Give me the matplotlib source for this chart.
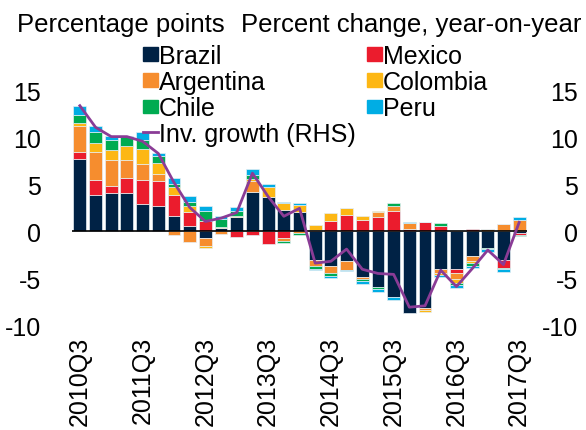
import matplotlib
matplotlib.use("Agg")
import matplotlib.pyplot as plt
import numpy as np
from matplotlib.patches import Rectangle
from matplotlib.lines import Line2D

plt.rcParams['font.family'] = ['Liberation Sans', 'DejaVu Sans']
plt.rcParams['axes.unicode_minus'] = False

quarters = [f"{2010 + (i + 2) // 4}Q{(i + 2) % 4 + 1}" for i in range(29)]

brazil = [7.75, 3.9, 4.1, 4.05, 2.9, 2.7, 1.58, 0.53, -0.74, 0.35, 1.48, 4.15, 3.7, 2.25, 2.1,
          -3.1, -3.7, -3.2, -4.86, -5.9, -7.0, -8.7, -8.2, -3.98, -3.98, -2.64, -1.76, -3.1, -0.18]
mexico = [0.7, 1.6, 0.75, 1.6, 2.55, 2.7, 2.32, 1.48, 1.1, 0.0, -0.6, -0.45, -1.37, -0.77, 0.0,
          0.12, 1.1, 1.76, 1.23, 1.55, 2.18, 0.25, 0.95, 0.6, -0.46, 0.2, 0.0, -0.77, -0.18]
argentina = [2.8, 2.95, 2.8, 2.0, 1.7, 0.75, -0.35, -1.16, -0.85, -0.28, 0.05, 1.2, 0.0, -0.28, -0.15,
             -0.6, -0.8, -0.95, -0.25, 0.46, 0.53, 0.63, -0.25, -0.42, -0.67, -0.5, 0.25, 0.74, 1.23]
colombia = [0.3, 1.0, 1.0, 1.45, 1.65, 1.13, 0.81, 0.7, -0.18, 0.1, 0.15, 0.25, 1.0, 0.74, 0.74,
            0.6, 0.9, 0.77, 0.35, 0.2, 0.0, 0.0, -0.2, -0.28, -0.46, -0.25, 0.0, 0.0, 0.0]
chile = [0.9, 1.1, 1.1, 1.0, 0.95, 0.77, 0.35, 0.42, 1.02, 0.85, 0.5, 0.45, 0.0, -0.25, -0.3,
         -0.28, -0.28, 0.0, -0.2, -0.28, 0.35, 0.0, 0.0, 0.25, -0.18, -0.3, -0.18, -0.2, -0.18]
peru = [0.9, 0.7, 0.4, 0.1, 0.8, 0.28, 0.63, 0.63, 0.63, 0.3, 0.45, 0.6, 0.35, 0.1, 0.14,
        -0.18, -0.25, -0.1, -0.28, -0.3, -0.28, 0.14, 0.05, -0.18, -0.25, -0.28, -0.28, -0.25, 0.28]
inv_growth = [13.4, 11.1, 10.1, 10.1, 9.6, 8.3, 5.2, 2.55, 1.05, 1.4, 2.0, 6.2, 3.7, 1.6, 2.45,
              -3.4, -3.2, -1.9, -4.05, -4.5, -4.6, -8.1, -7.95, -4.15, -5.9, -4.0, -2.0, -3.55, 0.95]

series = [("Brazil", brazil, "#002245"), ("Mexico", mexico, "#EB1C2D"),
          ("Argentina", argentina, "#F68D2E"), ("Colombia", colombia, "#FDB714"),
          ("Chile", chile, "#00AB51"), ("Peru", peru, "#00ADE4")]
line_color = "#8A3C96"
line_label = "Inv. growth (RHS)"

W, H = 586, 431
FS = 18
fig = plt.figure(figsize=(W / 100, H / 100), dpi=100)
ax = fig.add_axes([71.7 / W, 1 - 326 / H, (526.7 - 71.7) / W, (326 - 91.7) / H])
x = np.arange(len(quarters))
pos_bottom = np.zeros(len(x))
neg_bottom = np.zeros(len(x))
for name, vals, col in series:
    v = np.array(vals)
    bottom = np.where(v >= 0, pos_bottom, neg_bottom)
    ax.bar(x, v, bottom=bottom, width=0.82, color=col, edgecolor="#e6eef3", linewidth=0.5)
    pos_bottom += np.where(v >= 0, v, 0)
    neg_bottom += np.where(v < 0, v, 0)

ax.axhline(0, color="black", linewidth=1.2, zorder=3)
ax.set_xlim(-0.52, 28.48)
ax.set_ylim(-10, 15)
ax.set_yticks([-10, -5, 0, 5, 10, 15])
ax.set_xticks(x[::4])
ax.set_xticklabels([quarters[i] for i in range(0, 29, 4)], rotation=90, fontsize=FS)
for s in ax.spines.values():
    s.set_visible(False)
ax.tick_params(axis='both', length=0, labelsize=FS)
ax.tick_params(axis='y', pad=22)
ax.tick_params(axis='x', pad=8)

ax2 = ax.twinx()
ax2.plot(x, inv_growth, color=line_color, linewidth=2.0, zorder=5)
ax2.set_ylim(-10, 15)
ax2.set_yticks([-10, -5, 0, 5, 10, 15])
for s in ax2.spines.values():
    s.set_visible(False)
ax2.tick_params(axis='y', length=0, labelsize=FS, pad=37)
for t in ax2.get_yticklabels():
    t.set_horizontalalignment('right')

fig.text(17 / W, 1 - 32.3 / H, "Percentage points", fontsize=18.5, ha='left', va='baseline')
fig.text(581 / W, 1 - 32.3 / H, "Percent change, year-on-year", fontsize=18.5, ha='right', va='baseline')

# legend laid out as in the reference (two columns, last entry spans)
rows = [55, 81, 107.5, 133]
entries = [(0, 0, series[0]), (0, 1, series[1]), (1, 0, series[2]), (1, 1, series[3]),
           (2, 0, series[4]), (2, 1, series[5])]
col_x = [142.7, 366.7]
sq_w, sq_h = 15.5, 13.5
for r, c, (name, _, col) in entries:
    yc = rows[r]
    fig.patches.append(Rectangle((col_x[c] / W, 1 - (yc + sq_h / 2) / H), sq_w / W, sq_h / H,
                                 transform=fig.transFigure, color=col))
    fig.text((col_x[c] + sq_w + 0.5) / W, 1 - (yc + 8.8) / H, name, fontsize=FS, ha='left', va='baseline')
fig.lines.append(Line2D([col_x[0] / W, (col_x[0] + sq_w) / W], [1 - rows[3] / H, 1 - rows[3] / H],
                        transform=fig.transFigure, color=line_color, linewidth=2.0))
fig.text((col_x[0] + sq_w + 0.5) / W, 1 - (rows[3] + 8.8) / H, line_label, fontsize=FS, ha='left', va='baseline')

fig.savefig("out.png", dpi=100)
